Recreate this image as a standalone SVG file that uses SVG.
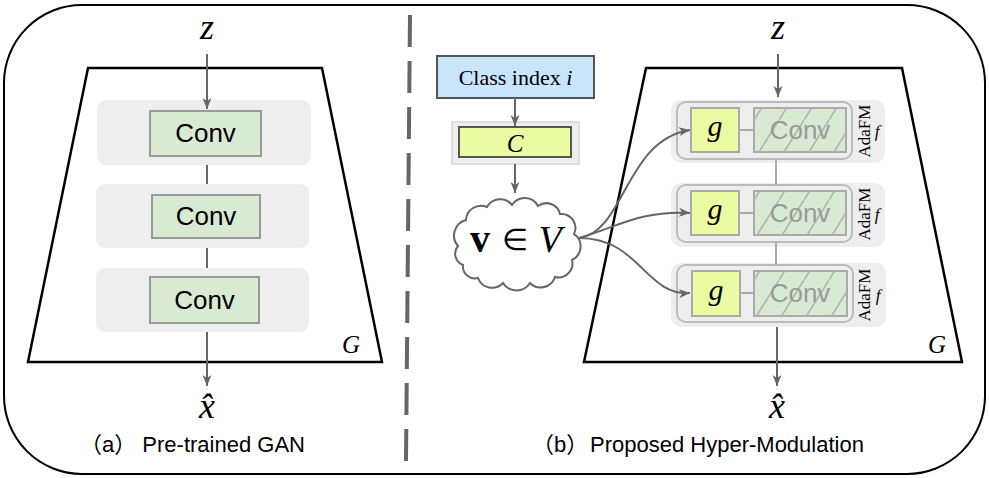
<svg xmlns="http://www.w3.org/2000/svg" width="989" height="478" viewBox="0 0 989 478">
<style>
.frame{fill:none;stroke:#000;stroke-width:2}
.trap{fill:none;stroke:#000;stroke-width:2.5}
.band{fill:#eeeeee;stroke:none}
.conv{fill:#d9ead3;stroke:#999;stroke-width:2}
.convt{font-family:"Liberation Sans",Arial,sans-serif;font-size:26px;fill:#000;text-anchor:middle}
.convg{font-family:"Liberation Sans",Arial,sans-serif;font-size:26px;fill:#9a9a9a;text-anchor:middle}
.math{font-family:"Liberation Serif","Times New Roman",serif;font-style:italic;fill:#000}
.serif{font-family:"Liberation Serif","Times New Roman",serif;fill:#000}
.cap{font-family:"Liberation Sans","Noto Sans CJK SC",sans-serif;font-size:22px;fill:#000}
.edge{fill:none;stroke:#666;stroke-width:2}
.link{fill:none;stroke:#aaa;stroke-width:2}
.inner{fill:#eeeeee;stroke:#bbb;stroke-width:2}
.gbox{fill:#ebfba3;stroke:#aaa;stroke-width:2}
.hbox{fill:#d9ead3;stroke:#aaa;stroke-width:2}
</style>
<defs>
<marker id="arr" markerUnits="userSpaceOnUse" markerWidth="12" markerHeight="10" refX="11" refY="5" orient="auto">
<path d="M0,0.5 L11,5 L0,9.5 L3,5 z" fill="#666"/>
</marker>
<pattern id="hatch" patternUnits="userSpaceOnUse" width="25" height="40" x="754" y="0">
<line x1="-1" y1="41.6" x2="26" y2="-1.6" stroke="#b0b0b0" stroke-width="1.6"/>
</pattern>
</defs>

<rect class="frame" x="4" y="5" width="981" height="469" rx="78" ry="78"/>
<line x1="410" y1="15" x2="406" y2="461" stroke="#666" stroke-width="4" stroke-dasharray="32 14"/>

<!-- (a) Pre-trained GAN -->
<g id="genA">
<polygon class="trap" points="88,68 322,68 382,362 28,362"/>
<text class="math" x="360" y="353" font-size="25" text-anchor="end">G</text>
</g>
<g id="zA"><text class="math" x="207" y="39" font-size="36" text-anchor="middle">z</text></g>
<g id="convA1">
<rect class="band" x="97" y="100" width="214" height="65" rx="9"/>
<rect class="conv" x="150" y="111" width="111" height="45"/>
<text class="convt" x="205.5" y="142">Conv</text>
</g>
<g id="convA2">
<rect class="band" x="96" y="184" width="213" height="64" rx="9"/>
<rect class="conv" x="152" y="195" width="108" height="43"/>
<text class="convt" x="206" y="225">Conv</text>
</g>
<g id="convA3">
<rect class="band" x="96" y="268" width="213" height="64" rx="9"/>
<rect class="conv" x="150" y="277" width="109" height="46"/>
<text class="convt" x="204.5" y="309">Conv</text>
</g>
<g id="xA"><text class="math" x="207" y="418" font-size="36" text-anchor="middle">x̂</text></g>
<text class="cap" x="80" y="452">（a） Pre-trained GAN</text>

<!-- (b) Proposed Hyper-Modulation -->
<g id="classIdx">
<rect x="437" y="56" width="157" height="42" fill="#c9e5fb" stroke="#555" stroke-width="2"/>
<text class="serif" x="515.5" y="85" font-size="22" text-anchor="middle">Class index <tspan font-style="italic">i</tspan></text>
</g>
<g id="Cnet">
<rect x="452" y="122" width="127" height="42" fill="#eeeeee" stroke="#ddd" stroke-width="2"/>
<rect x="459" y="127" width="112" height="30" fill="#ebfba3" stroke="#555" stroke-width="2"/>
<text class="math" x="515" y="152" font-size="25" text-anchor="middle">C</text>
</g>
<g id="cloud">
<path d="M458,246 A16,16 0 0 1 466,220 A15,15 0 0 1 487,207 A15,15 0 0 1 512,205 A15,15 0 0 1 538,206 A14,14 0 0 1 560,214 A14,14 0 0 1 574,234 A15,15 0 0 1 572,260 A14,14 0 0 1 555,277 A15,15 0 0 1 530,283 A16,16 0 0 1 503,283 A15,15 0 0 1 478,278 A12,12 0 0 1 463,265 A12,12 0 0 1 458,246 z" fill="#fff" stroke="#666" stroke-width="2"/>
<text class="serif" x="470" y="252" font-size="40" font-weight="bold">v</text>
<text class="serif" x="515" y="250" font-size="30" text-anchor="middle">∈</text>
<text class="math" x="550" y="252" font-size="38" text-anchor="middle">V</text>
</g>

<g id="genB">
<polygon class="trap" points="646,68 902,68 962,362 584,362"/>
<text class="math" x="946" y="353" font-size="25" text-anchor="end">G</text>
</g>
<g id="zB"><text class="math" x="778" y="39" font-size="36" text-anchor="middle">z</text></g>

<g id="adafm1">
<rect class="band" x="671" y="100" width="214" height="63" rx="10"/>
<rect class="inner" x="677" y="102" width="175" height="57" rx="9"/>
<line class="link" x1="739" y1="130" x2="754" y2="130"/>
<rect class="gbox" x="691" y="108" width="48" height="44"/>
<text class="math" x="715" y="136" font-size="30" text-anchor="middle">g</text>
<rect class="hbox" x="754" y="108" width="92" height="44"/>
<rect x="754" y="108" width="92" height="44" fill="url(#hatch)"/>
<text class="convg" x="800" y="139">Conv</text>
<text class="serif" font-size="17" transform="translate(870,131) rotate(-90)" text-anchor="middle">AdaFM</text>
<text class="math" x="877" y="137" font-size="17" text-anchor="middle">f</text>
</g>
<g id="adafm2">
<rect class="band" x="671" y="183" width="214" height="64" rx="10"/>
<rect class="inner" x="677" y="185" width="175" height="57" rx="9"/>
<line class="link" x1="739" y1="213" x2="754" y2="213"/>
<rect class="gbox" x="691" y="191" width="48" height="44"/>
<text class="math" x="715" y="219" font-size="30" text-anchor="middle">g</text>
<rect class="hbox" x="754" y="191" width="92" height="44"/>
<rect x="754" y="191" width="92" height="44" fill="url(#hatch)"/>
<text class="convg" x="800" y="222">Conv</text>
<text class="serif" font-size="17" transform="translate(870,214) rotate(-90)" text-anchor="middle">AdaFM</text>
<text class="math" x="877" y="220" font-size="17" text-anchor="middle">f</text>
</g>
<g id="adafm3">
<rect class="band" x="671" y="263" width="215" height="64" rx="10"/>
<rect class="inner" x="677" y="265" width="176" height="57" rx="9"/>
<line class="link" x1="740" y1="293" x2="754" y2="293"/>
<rect class="gbox" x="692" y="271" width="48" height="45"/>
<text class="math" x="716" y="300" font-size="30" text-anchor="middle">g</text>
<rect class="hbox" x="754" y="271" width="93" height="45"/>
<rect x="754" y="271" width="93" height="45" fill="url(#hatch)"/>
<text class="convg" x="800" y="302">Conv</text>
<text class="serif" font-size="17" transform="translate(870,295) rotate(-90)" text-anchor="middle">AdaFM</text>
<text class="math" x="878" y="301" font-size="17" text-anchor="middle">f</text>
</g>
<g id="xB"><text class="math" x="777" y="418" font-size="36" text-anchor="middle">x̂</text></g>
<text class="cap" x="532" y="452">（b）<tspan x="590">Proposed Hyper-Modulation</tspan></text>

<g id="connectors">
<line class="edge" x1="207" y1="54" x2="207" y2="109" marker-end="url(#arr)"/>
<line class="edge" x1="207" y1="165" x2="207" y2="184"/>
<line class="edge" x1="207" y1="248" x2="207" y2="268"/>
<line class="edge" x1="207" y1="332" x2="207" y2="386" marker-end="url(#arr)"/>
<line class="edge" x1="515" y1="98" x2="515" y2="126" marker-end="url(#arr)"/>
<line class="edge" x1="515" y1="164" x2="515" y2="193" marker-end="url(#arr)"/>
<line class="edge" x1="778" y1="54" x2="778" y2="97" marker-end="url(#arr)"/>
<line class="link" x1="776" y1="159" x2="776" y2="185"/>
<line class="link" x1="776" y1="242" x2="776" y2="265"/>
<line class="edge" x1="777" y1="327" x2="777" y2="386" marker-end="url(#arr)"/>
<path class="edge" d="M579,238 C625,232 625,140 690,130" marker-end="url(#arr)"/>
<path class="edge" d="M579,238 C615,228 640,210 690,213" marker-end="url(#arr)"/>
<path class="edge" d="M579,238 C640,238 645,296 690,293" marker-end="url(#arr)"/>
</g>
</svg>
